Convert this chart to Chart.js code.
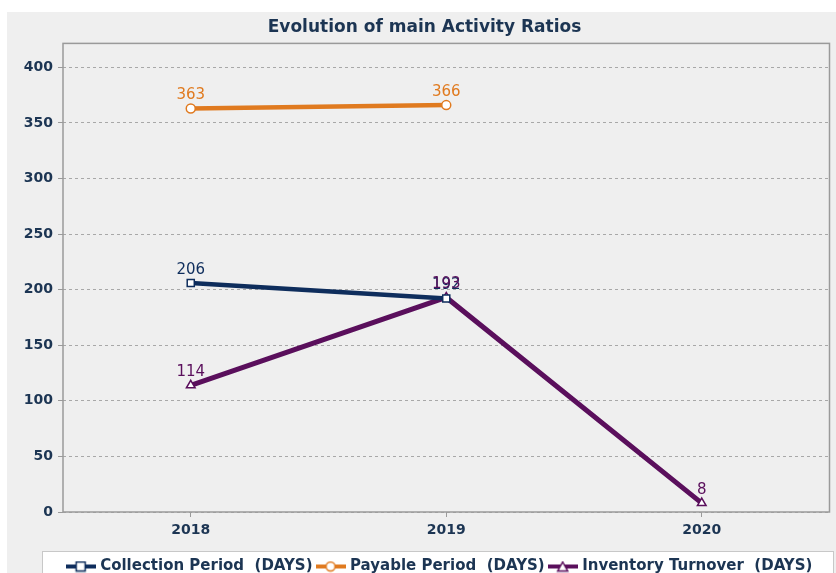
<!DOCTYPE html>
<html>
<head>
<meta charset="utf-8">
<script src="https://cdn.jsdelivr.net/npm/chart.js@4.4.1/dist/chart.umd.min.js"></script>
<style>
html,body{margin:0;padding:0;background:#ffffff;overflow:hidden;}
#wrap{position:absolute;left:7px;top:12px;width:829px;height:572px;}
</style>
</head>
<body>
<div id="wrap"><canvas id="c" width="829" height="572"></canvas></div>
<script>
const categories = ['2018', '2019', '2020'];
const collectionPeriod = [206, 192, null];
const payablePeriod = [363, 366, null];
const inventoryTurnover = [114, 193, 8];
const seriesNames = ['Collection Period  (DAYS)', 'Payable Period  (DAYS)', 'Inventory Turnover  (DAYS)'];
const yTicks = [0, 50, 100, 150, 200, 250, 300, 350, 400];
const chartTitle = 'Evolution of main Activity Ratios';

const NAVY = '#0e2d5c', ORANGE = '#e07a1f', PURPLE = '#5a0f5c';
const TEXT = '#1c3553';
const FONT = '"DejaVu Sans"';

function legendIcon(color, style) {
  const c = document.createElement('canvas');
  c.width = 30; c.height = 12;
  const x = c.getContext('2d');
  x.strokeStyle = color; x.lineWidth = 4;
  x.beginPath(); x.moveTo(0, 6); x.lineTo(30, 6); x.stroke();
  x.fillStyle = '#ffffff'; x.lineWidth = 1.5;
  x.beginPath();
  if (style === 'rect') { x.rect(10.5, 1.5, 9, 9); }
  else if (style === 'circle') { x.arc(15, 6, 4.5, 0, Math.PI * 2); }
  else { x.moveTo(15, 1.5); x.lineTo(20, 10.5); x.lineTo(10, 10.5); x.closePath(); }
  x.fill(); x.stroke();
  return c;
}

const bgPlugin = {
  id: 'bg',
  afterLayout(chart) {
    chart.legend.left += 32;
  },
  beforeDraw(chart) {
    const ctx = chart.ctx;
    ctx.save();
    ctx.fillStyle = '#efefef';
    ctx.fillRect(0, 0, chart.width, chart.height);
    const lg = chart.legend;
    const top = lg.top - 2;
    ctx.fillStyle = '#ffffff';
    ctx.strokeStyle = '#c8c8c8';
    ctx.lineWidth = 1;
    ctx.fillRect(35, top, 792, chart.height - top + 5);
    ctx.strokeRect(35.5, top + 0.5, 791, chart.height - top + 5);
    ctx.restore();
  },
  afterDatasetsDraw(chart) {
    const a = chart.chartArea, ctx = chart.ctx;
    ctx.save();
    ctx.strokeStyle = '#9a9a9a';
    ctx.lineWidth = 1.5;
    ctx.strokeRect(a.left, a.top, a.right - a.left, a.bottom - a.top);
    ctx.restore();
  }
};

const labelPlugin = {
  id: 'vlabels',
  afterDatasetsDraw(chart) {
    const ctx = chart.ctx;
    ctx.save();
    ctx.font = '15px ' + FONT;
    ctx.textAlign = 'center';
    ctx.textBaseline = 'middle';
    chart.data.datasets.forEach((ds, i) => {
      const meta = chart.getDatasetMeta(i);
      meta.data.forEach((pt, j) => {
        const v = ds.data[j];
        if (v === null || v === undefined) return;
        ctx.fillStyle = ds.borderColor;
        ctx.fillText(String(v), pt.x, pt.y - 13);
      });
    });
    ctx.restore();
  }
};

const icons = [legendIcon(NAVY, 'rect'), legendIcon(ORANGE, 'circle'), legendIcon(PURPLE, 'triangle')];

new Chart(document.getElementById('c'), {
  type: 'line',
  data: {
    labels: categories,
    datasets: [
      { label: seriesNames[0], data: collectionPeriod, borderColor: NAVY, backgroundColor: '#ffffff',
        borderWidth: 4.5, pointStyle: 'rect', pointRadius: 5, pointBorderWidth: 1.5, pointBorderColor: NAVY, pointBackgroundColor: '#ffffff', spanGaps: false },
      { label: seriesNames[1], data: payablePeriod, borderColor: ORANGE, backgroundColor: '#ffffff',
        borderWidth: 4.5, pointStyle: 'circle', pointRadius: 4.5, pointBorderWidth: 1.5, pointBorderColor: ORANGE, pointBackgroundColor: '#ffffff', spanGaps: false },
      { label: seriesNames[2], data: inventoryTurnover, borderColor: PURPLE, backgroundColor: '#ffffff',
        borderWidth: 5, pointStyle: 'triangle', pointRadius: 5, pointBorderWidth: 1.5, pointBorderColor: PURPLE, pointBackgroundColor: '#ffffff', spanGaps: false }
    ]
  },
  options: {
    responsive: false,
    animation: false,
    layout: { padding: { left: 8, right: 2, top: 0, bottom: 0 } },
    plugins: {
      title: {
        display: true, text: chartTitle, color: TEXT,
        font: { family: FONT, size: 17, weight: 'bold' },
        padding: { top: 5, bottom: 6 }
      },
      legend: {
        position: 'bottom',
        labels: {
          color: TEXT,
          font: { family: FONT, size: 15, weight: 'bold' },
          usePointStyle: true,
          pointStyleWidth: 24,
          boxHeight: 12,
          padding: 6,
          generateLabels(chart) {
            return chart.data.datasets.map((ds, i) => ({
              text: ds.label, pointStyle: icons[i], fillStyle: ds.borderColor,
              strokeStyle: ds.borderColor, lineWidth: 0, hidden: false, datasetIndex: i, fontColor: TEXT
            }));
          }
        }
      },
      tooltip: { enabled: false }
    },
    scales: {
      x: {
        type: 'category',
        offset: true,
        afterFit(scale) { scale.height = 41; },
        grid: { display: true, drawOnChartArea: false, drawTicks: true, tickLength: 5, offset: false, color: '#9a9a9a' },
        border: { display: false },
        ticks: { color: TEXT, font: { family: FONT, size: 14, weight: 'bold' }, padding: 5 }
      },
      y: {
        min: 0, max: 421.5,
        afterFit(scale) { scale.width = 48; },
        afterBuildTicks(scale) { scale.ticks = yTicks.map(v => ({ value: v })); },
        grid: { color: '#a8a8a8', drawTicks: true, tickLength: 5, tickColor: '#9a9a9a' },
        border: { display: false, dash: [3, 3] },
        ticks: { color: TEXT, font: { family: FONT, size: 14, weight: 'bold' }, padding: 5 }
      }
    }
  },
  plugins: [bgPlugin, labelPlugin]
});
</script>
</body>
</html>
